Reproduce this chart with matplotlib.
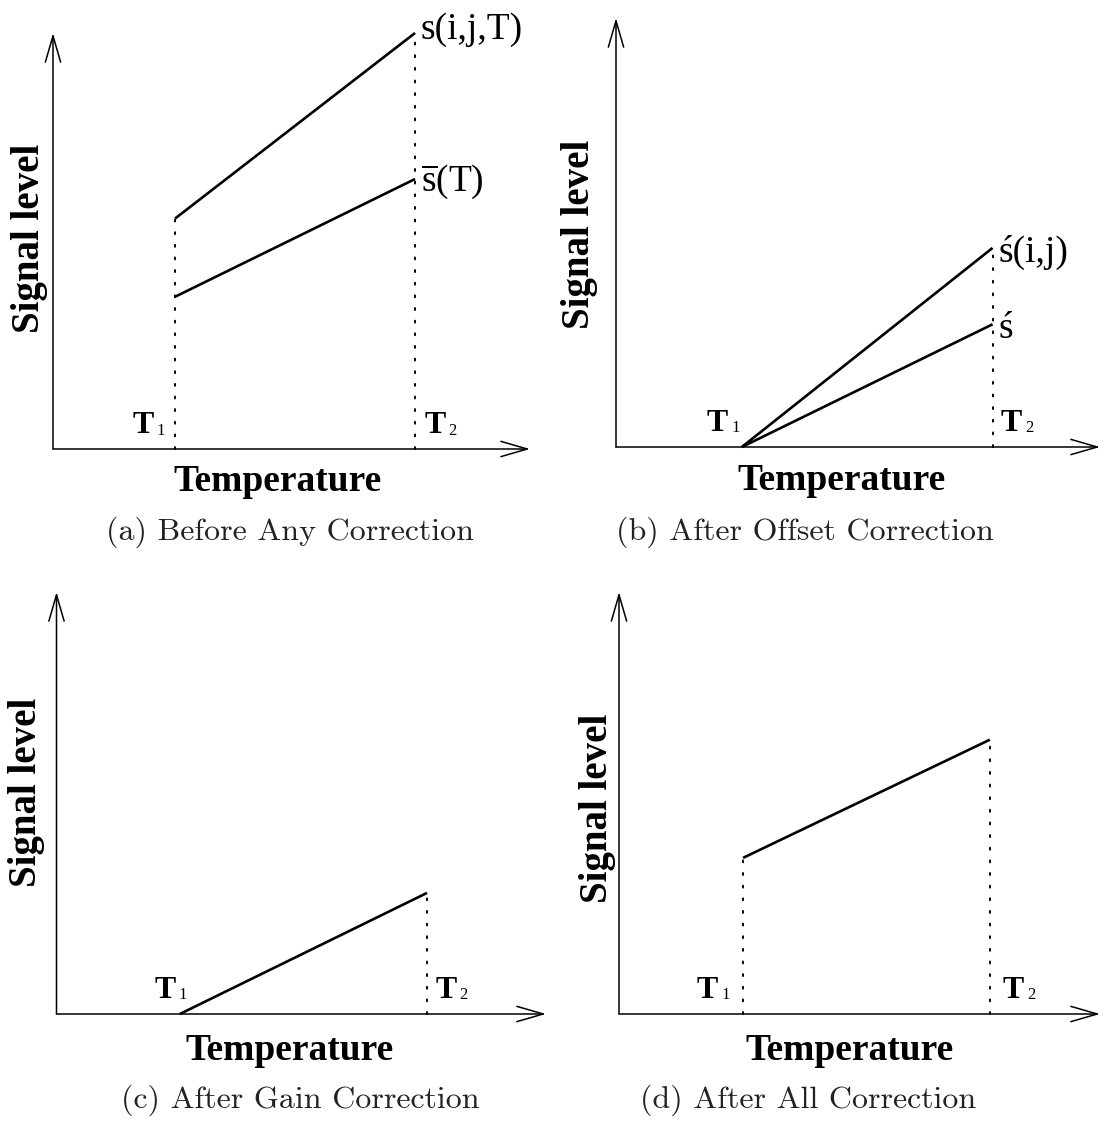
import matplotlib
matplotlib.use("Agg")
import matplotlib.pyplot as plt

plt.rcParams['mathtext.fontset'] = 'custom'
plt.rcParams['mathtext.rm'] = 'Liberation Serif'
plt.rcParams['mathtext.bf'] = 'Liberation Serif:bold'

# ---------------- data (schematic units, axes run 0..10) ----------------
captions = ['(a) Before Any Correction', '(b) After Offset Correction',
            '(c) After Gain Correction', '(d) After All Correction']
t1 = [2.56, 2.60, 2.52, 2.58]          # temperature T1 per panel
t2 = [7.59, 7.78, 7.57, 7.71]          # temperature T2 per panel
pix_start = [5.54, 0.00, 0.00, 3.70]   # pixel signal at T1
pix_end = [10.0, 4.64, 2.87, 6.50]     # pixel signal at T2
mean_start = [3.66, 0.00]              # mean signal at T1 (panels a, b)
mean_end = [6.49, 2.86]                # mean signal at T2 (panels a, b)
pix_labels = ['s(i,j,T)', 'ś(i,j)', None, None]
mean_labels = [r'$\overline{\mathrm{s}}\mathrm{(T)}$', 'ś']
show_t1_dots = [True, False, False, True]

# ---------------- layout ----------------
W, H = 1104, 1121
fig = plt.figure(figsize=(W / 100, H / 100), dpi=100)

# origin x, origin y (from top), arrow tip x, arrow top y  (pixels)
boxes = [(53, 449, 530, 33), (616, 447, 1100, 18),
         (56.5, 1014, 546, 592), (619, 1014, 1100, 592)]
cap_pos = [(290, 532), (805, 532), (300, 1100), (808, 1100)]
temp_pos = [(278, 482), (842, 481), (290, 1050), (850, 1051)]
sig_pos = [(30, 238), (580, 234), (27, 792), (597, 808)]
t1_lab_x = [1.66, 1.88, 2.0, 1.62]
t2_lab_x = [7.78, 7.95, 7.74, 7.98]

label_font = dict(family='Liberation Serif', fontweight='bold', color='black')
dots = dict(color='black', lw=1.4, linestyle=(0, (1, 5.5)), dash_capstyle='round')

for i in range(4):
    x0, y0, x1, y1 = boxes[i]
    ax = fig.add_axes([x0 / W, 1 - y0 / H, (x1 - x0) / W, (y0 - y1) / H])
    ax.set_xlim(0, 10)
    ax.set_ylim(0, 10)
    ax.axis('off')

    arrow = dict(arrowstyle='->,head_length=1.9,head_width=0.55', lw=1.1,
                 color='black', shrinkA=0, shrinkB=0, mutation_scale=10)
    ax.annotate('', xy=(1, 0), xytext=(0, 0), xycoords='axes fraction',
                arrowprops=arrow)
    ax.annotate('', xy=(0, 1), xytext=(0, 0), xycoords='axes fraction',
                arrowprops=arrow)

    # dotted verticals
    if show_t1_dots[i]:
        ax.plot([t1[i], t1[i]], [0, pix_start[i]], clip_on=False, **dots)
    ax.plot([t2[i], t2[i]], [0, pix_end[i]], clip_on=False, **dots)

    # pixel line
    ax.plot([t1[i], t2[i]], [pix_start[i], pix_end[i]], color='black',
            lw=1.9, clip_on=False, solid_capstyle='butt')
    if i < 2:
        ax.plot([t1[i], t2[i]], [mean_start[i], mean_end[i]], color='black',
                lw=1.9, clip_on=False, solid_capstyle='butt')
        ax.text(t2[i] + 0.12, pix_end[i] - 0.15 if i == 0 else pix_end[i] - 0.32,
                pix_labels[i], family='Liberation Serif', fontsize=27,
                ha='left', va='baseline')
        ax.text(t2[i] + 0.12, mean_end[i] - 0.28 if i == 0 else mean_end[i] - 0.32,
                mean_labels[i], family='Liberation Serif', fontsize=27,
                ha='left', va='baseline')

    # T1 / T2 labels
    for xl, sub in ((t1_lab_x[i], '1'), (t2_lab_x[i], '2')):
        ax.text(xl, 0.38, 'T', fontsize=23, ha='left', va='baseline',
                **label_font)
        ax.annotate(sub, xy=(xl, 0.38), xytext=(17.5, -1),
                    textcoords='offset points', family='Liberation Serif',
                    fontsize=12, ha='left', va='baseline')

    fig.text(temp_pos[i][0] / W, 1 - temp_pos[i][1] / H, 'Temperature',
             fontsize=27, ha='center', va='center', **label_font)
    fig.text(sig_pos[i][0] / W, 1 - sig_pos[i][1] / H, 'Signal level',
             fontsize=28, ha='center', va='center', rotation=90, **label_font)
    fig.text(cap_pos[i][0] / W, 1 - cap_pos[i][1] / H, captions[i],
             family='cmr10', fontsize=23, ha='center', va='center',
             color='#222222')

fig.savefig('out.png', dpi=100, facecolor='white')
